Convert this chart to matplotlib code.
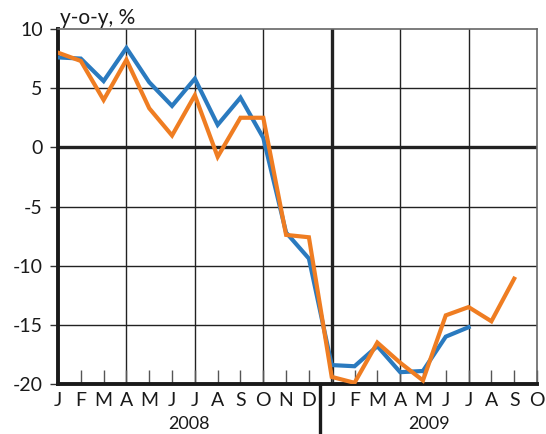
import numpy as np
import matplotlib.pyplot as plt

plt.rcParams['font.family'] = ['Lato', 'DejaVu Sans']

months = ['J', 'F', 'M', 'A', 'M', 'J', 'J', 'A', 'S', 'O', 'N', 'D',
          'J', 'F', 'M', 'A', 'M', 'J', 'J', 'A', 'S', 'O']
years = ['2008', '2009']

# blue series: Jan 2008 - Jul 2009
blue = [7.6, 7.5, 5.6, 8.4, 5.5, 3.5, 5.8, 1.9, 4.2, 0.8, -7.2, -9.4,
        -18.4, -18.5, -16.8, -19.0, -18.9, -16.0, -15.2]
# orange series: Jan 2008 - Sep 2009
orange = [8.0, 7.3, 4.0, 7.4, 3.3, 1.0, 4.4, -0.8, 2.5, 2.5, -7.4, -7.6,
          -19.4, -19.9, -16.5, -18.2, -19.7, -14.2, -13.5, -14.7, -11.1]

BLUE = '#2a7abf'
ORANGE = '#ef7d22'
TXT = '#1a1a1a'

fig = plt.figure(figsize=(5.46, 4.34), dpi=100)
ax = fig.add_axes([58 / 546, 50 / 434, 479 / 546, 355 / 434])

ax.set_xlim(0, len(months) - 1)
ax.set_ylim(-20, 10)

# grid
for x in [3, 6, 9, 15, 18]:
    ax.axvline(x, color='#222222', lw=1.0, zorder=1)
ax.axvline(12, color='#222222', lw=2.4, zorder=1)
for y in [-15, -10, -5, 5]:
    ax.axhline(y, color='#222222', lw=1.0, zorder=1)
ax.axhline(0, color='#222222', lw=2.4, zorder=1)

ax.plot(np.arange(len(blue)), blue, color=BLUE, lw=3.0, zorder=3,
        solid_joinstyle='miter')
ax.plot(np.arange(len(orange)), orange, color=ORANGE, lw=3.0, zorder=4,
        solid_joinstyle='miter')

# spines
ax.spines['left'].set_linewidth(2.8)
ax.spines['left'].set_color(TXT)
ax.spines['bottom'].set_linewidth(2.8)
ax.spines['bottom'].set_color(TXT)
ax.spines['top'].set_linewidth(1.2)
ax.spines['top'].set_color('#666666')
ax.spines['right'].set_linewidth(1.2)
ax.spines['right'].set_color('#666666')

ax.set_yticks([-20, -15, -10, -5, 0, 5, 10])
ax.set_yticklabels(['-20', '-15', '-10', '-5', '0', '5', '10'])
ax.tick_params(axis='y', direction='out', length=6, width=1.0,
               color='#333333', labelsize=14, pad=5, labelcolor=TXT)

ax.set_xticks(np.arange(len(months)))
ax.set_xticklabels([])
ax.tick_params(axis='x', direction='in', length=10, width=1.0,
               color='#555555')

for i, m in enumerate(months):
    ax.text(i, -0.047, m, transform=ax.get_xaxis_transform(),
            ha='center', va='center', fontsize=14, color=TXT)
ax.text(5.75, -0.112, years[0], transform=ax.get_xaxis_transform(),
        ha='center', va='center', fontsize=13, color=TXT)
ax.text(16.25, -0.112, years[1], transform=ax.get_xaxis_transform(),
        ha='center', va='center', fontsize=13, color=TXT)

# year separator below axis
ax.plot([11.5, 11.5], [0, -50 / 355], transform=ax.get_xaxis_transform(),
        color=TXT, lw=2.4, clip_on=False)

ax.text(0.005, 1.004, 'y-o-y, %', transform=ax.transAxes, ha='left',
        va='bottom', fontsize=15, color=TXT)

fig.savefig('out.png', dpi=100)
